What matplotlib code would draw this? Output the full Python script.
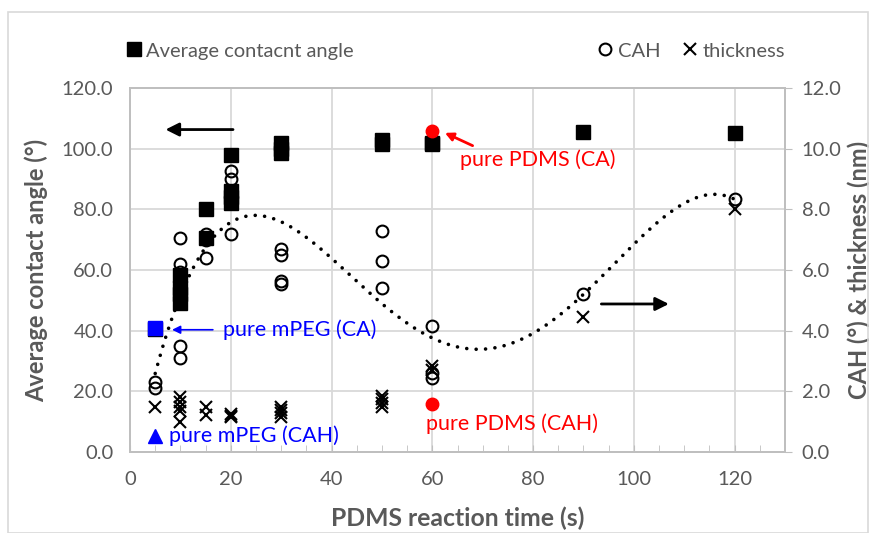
import matplotlib.pyplot as plt
from matplotlib.lines import Line2D
import numpy as np

plt.rcParams['font.family'] = ['Lato', 'DejaVu Sans']

# average contact angle (left axis)
time_ca = [5, 10, 10, 10, 10, 15, 15, 20, 20, 20, 20, 30, 30, 30, 50, 50, 60, 60, 90, 120]
ca = [40.5, 58.5, 54, 52, 49, 80, 70.5, 98, 86, 84, 82, 102, 100, 98.5, 103, 101.5, 102, 101.5, 105.5, 105.3]

# CAH (right axis)
time_cah = [5, 5, 10, 10, 10, 10, 10, 10, 15, 15, 15, 20, 20, 20, 20, 20,
            30, 30, 30, 30, 50, 50, 50, 60, 60, 60, 90, 120]
cah = [2.1, 2.3, 7.05, 6.2, 5.95, 5.0, 3.5, 3.1, 7.2, 7.0, 6.4, 9.25, 9.0, 8.4, 8.2, 7.2,
       6.7, 6.5, 5.65, 5.55, 7.3, 6.3, 5.4, 4.15, 2.6, 2.45, 5.2, 8.35]

# thickness (right axis)
time_th = [5, 10, 10, 10, 10, 10, 15, 15, 20, 20, 20, 30, 30, 30, 30,
           50, 50, 50, 50, 60, 60, 90, 120]
thickness = [1.48, 1.8, 1.65, 1.5, 1.35, 1.0, 1.5, 1.22, 1.25, 1.2, 1.15, 1.5, 1.4, 1.3, 1.15,
             1.85, 1.75, 1.6, 1.5, 2.85, 2.7, 4.45, 8.0]

# reference samples
mpeg_ca = (5, 41.0)
mpeg_cah = (5, 0.53)
pdms_ca = (60, 105.8)
pdms_cah = (60, 1.58)

grey = '#595959'
fs = 14.5
fa = 15.5
fig = plt.figure(figsize=(8.7, 5.33), dpi=100)
ax = fig.add_axes([130/870, 1-452/533, 655/870, 364/533])
ax2 = ax.twinx()

ax.set_xlim(0, 130)
ax.set_ylim(0, 120)
ax2.set_ylim(0, 12)

ax.plot(time_ca, ca, 's', color='black', ms=9.5, zorder=3)
ax.plot(*mpeg_ca, 's', color='#0000ff', ms=9.5, zorder=4)
ax.plot(*pdms_ca, 'o', color='#ff0000', ms=9, zorder=4)

ax2.plot(time_cah, cah, 'o', mfc='none', mec='black', mew=1.5, ms=8.5, zorder=3)
ax2.plot(time_th, thickness, 'x', color='black', mew=1.5, ms=9, zorder=3)
ax2.plot(*mpeg_cah, '^', color='#0000ff', ms=10, zorder=4)
ax2.plot(*pdms_cah, 'o', color='#ff0000', ms=9, zorder=4)

# 4th order polynomial trendline of CAH
coef = np.polyfit(time_cah, cah, 4)
xt = np.linspace(5, 120, 300)
ax2.plot(xt, np.polyval(coef, xt), color='black', lw=2.6,
         linestyle=(0, (0.01, 2.6)), dash_capstyle='round', zorder=5)

# arrows indicating axes
ax.annotate('', xy=(6.5, 106.3), xytext=(21, 106.3),
            arrowprops=dict(arrowstyle='-|>', color='black', lw=2, mutation_scale=20))
ax.annotate('', xy=(107.5, 48.8), xytext=(93, 48.8),
            arrowprops=dict(arrowstyle='-|>', color='black', lw=2, mutation_scale=20))

ax.annotate('', xy=(62, 105.6), xytext=(68.5, 100.6),
            arrowprops=dict(arrowstyle='-|>', color='#ff0000', lw=2, mutation_scale=12))
ax.text(65.5, 96.5, 'pure PDMS (CA)', color='#ff0000', fontsize=fa, va='center', ha='left')
ax.annotate('', xy=(7.8, 40.3), xytext=(17, 40.3),
            arrowprops=dict(arrowstyle='-|>', color='#0000ff', lw=1.2, mutation_scale=12))
ax.text(18.4, 40.3, 'pure mPEG (CA)', color='#0000ff', fontsize=fa, va='center', ha='left')
ax.text(7.8, 5.3, 'pure mPEG (CAH)', color='#0000ff', fontsize=fa, va='center', ha='left')
ax.text(58.7, 9.3, 'pure PDMS (CAH)', color='#ff0000', fontsize=fa, va='center', ha='left')

# axes styling
ax.set_xticks(range(0, 121, 20))
ax.set_xticks(range(0, 131, 5), minor=True)
ax.set_yticks(np.arange(0, 121, 20))
ax.set_yticklabels([f'{v:.1f}' for v in np.arange(0, 121, 20)])
ax2.set_yticks(np.arange(0, 12.1, 2))
ax2.set_yticklabels([f'{v:.1f}' for v in np.arange(0, 12.1, 2)])

ax.grid(True, color='#d9d9d9', lw=1.3, zorder=0)
ax.set_axisbelow(True)
for a in (ax, ax2):
    for s in a.spines.values():
        s.set_color('#bfbfbf')
        s.set_linewidth(1.3)
ax.tick_params(axis='x', which='both', direction='in', length=5, color='#bfbfbf',
               labelsize=fs, labelcolor=grey, pad=14)
ax.tick_params(axis='y', length=0, labelsize=fs, labelcolor=grey, pad=12)
ax2.tick_params(axis='y', direction='out', length=5, color='#bfbfbf',
                labelsize=fs, labelcolor=grey, pad=7)

ax.set_xlabel('PDMS reaction time (s)', fontsize=17.8, fontweight='bold', color=grey, labelpad=13)
ax.set_ylabel('Average contact angle (°)', fontsize=17, fontweight='bold', color=grey, labelpad=10)
ax2.set_ylabel('CAH (°) & thickness (nm)', fontsize=17, fontweight='bold', color=grey, labelpad=4)

# legend
h1 = [Line2D([], [], marker='s', color='black', ls='none', ms=9.5)]
fig.legend(h1, ['Average contacnt angle'], loc='center left', bbox_to_anchor=(128/870, 1-51/533),
           frameon=False, fontsize=fs, labelcolor=grey, handlelength=0.6, handletextpad=0.3,
           borderaxespad=0, borderpad=0)
h2 = [Line2D([], [], marker='o', mfc='none', mec='black', mew=1.5, ls='none', ms=8.5),
      Line2D([], [], marker='x', color='black', mew=1.5, ls='none', ms=9)]
fig.legend(h2, ['CAH', 'thickness'], loc='center right', bbox_to_anchor=(785/870, 1-51/533),
           frameon=False, fontsize=fs, labelcolor=grey, ncol=2, handlelength=0.6,
           handletextpad=0.3, columnspacing=1.2, borderaxespad=0, borderpad=0)

# chart border
fig.patches.append(plt.Rectangle((8/870, 0), 1-10/870, 1-12/533, transform=fig.transFigure,
                                 fill=False, edgecolor='#d9d9d9', lw=1.2))

fig.savefig('out.png', dpi=100)
